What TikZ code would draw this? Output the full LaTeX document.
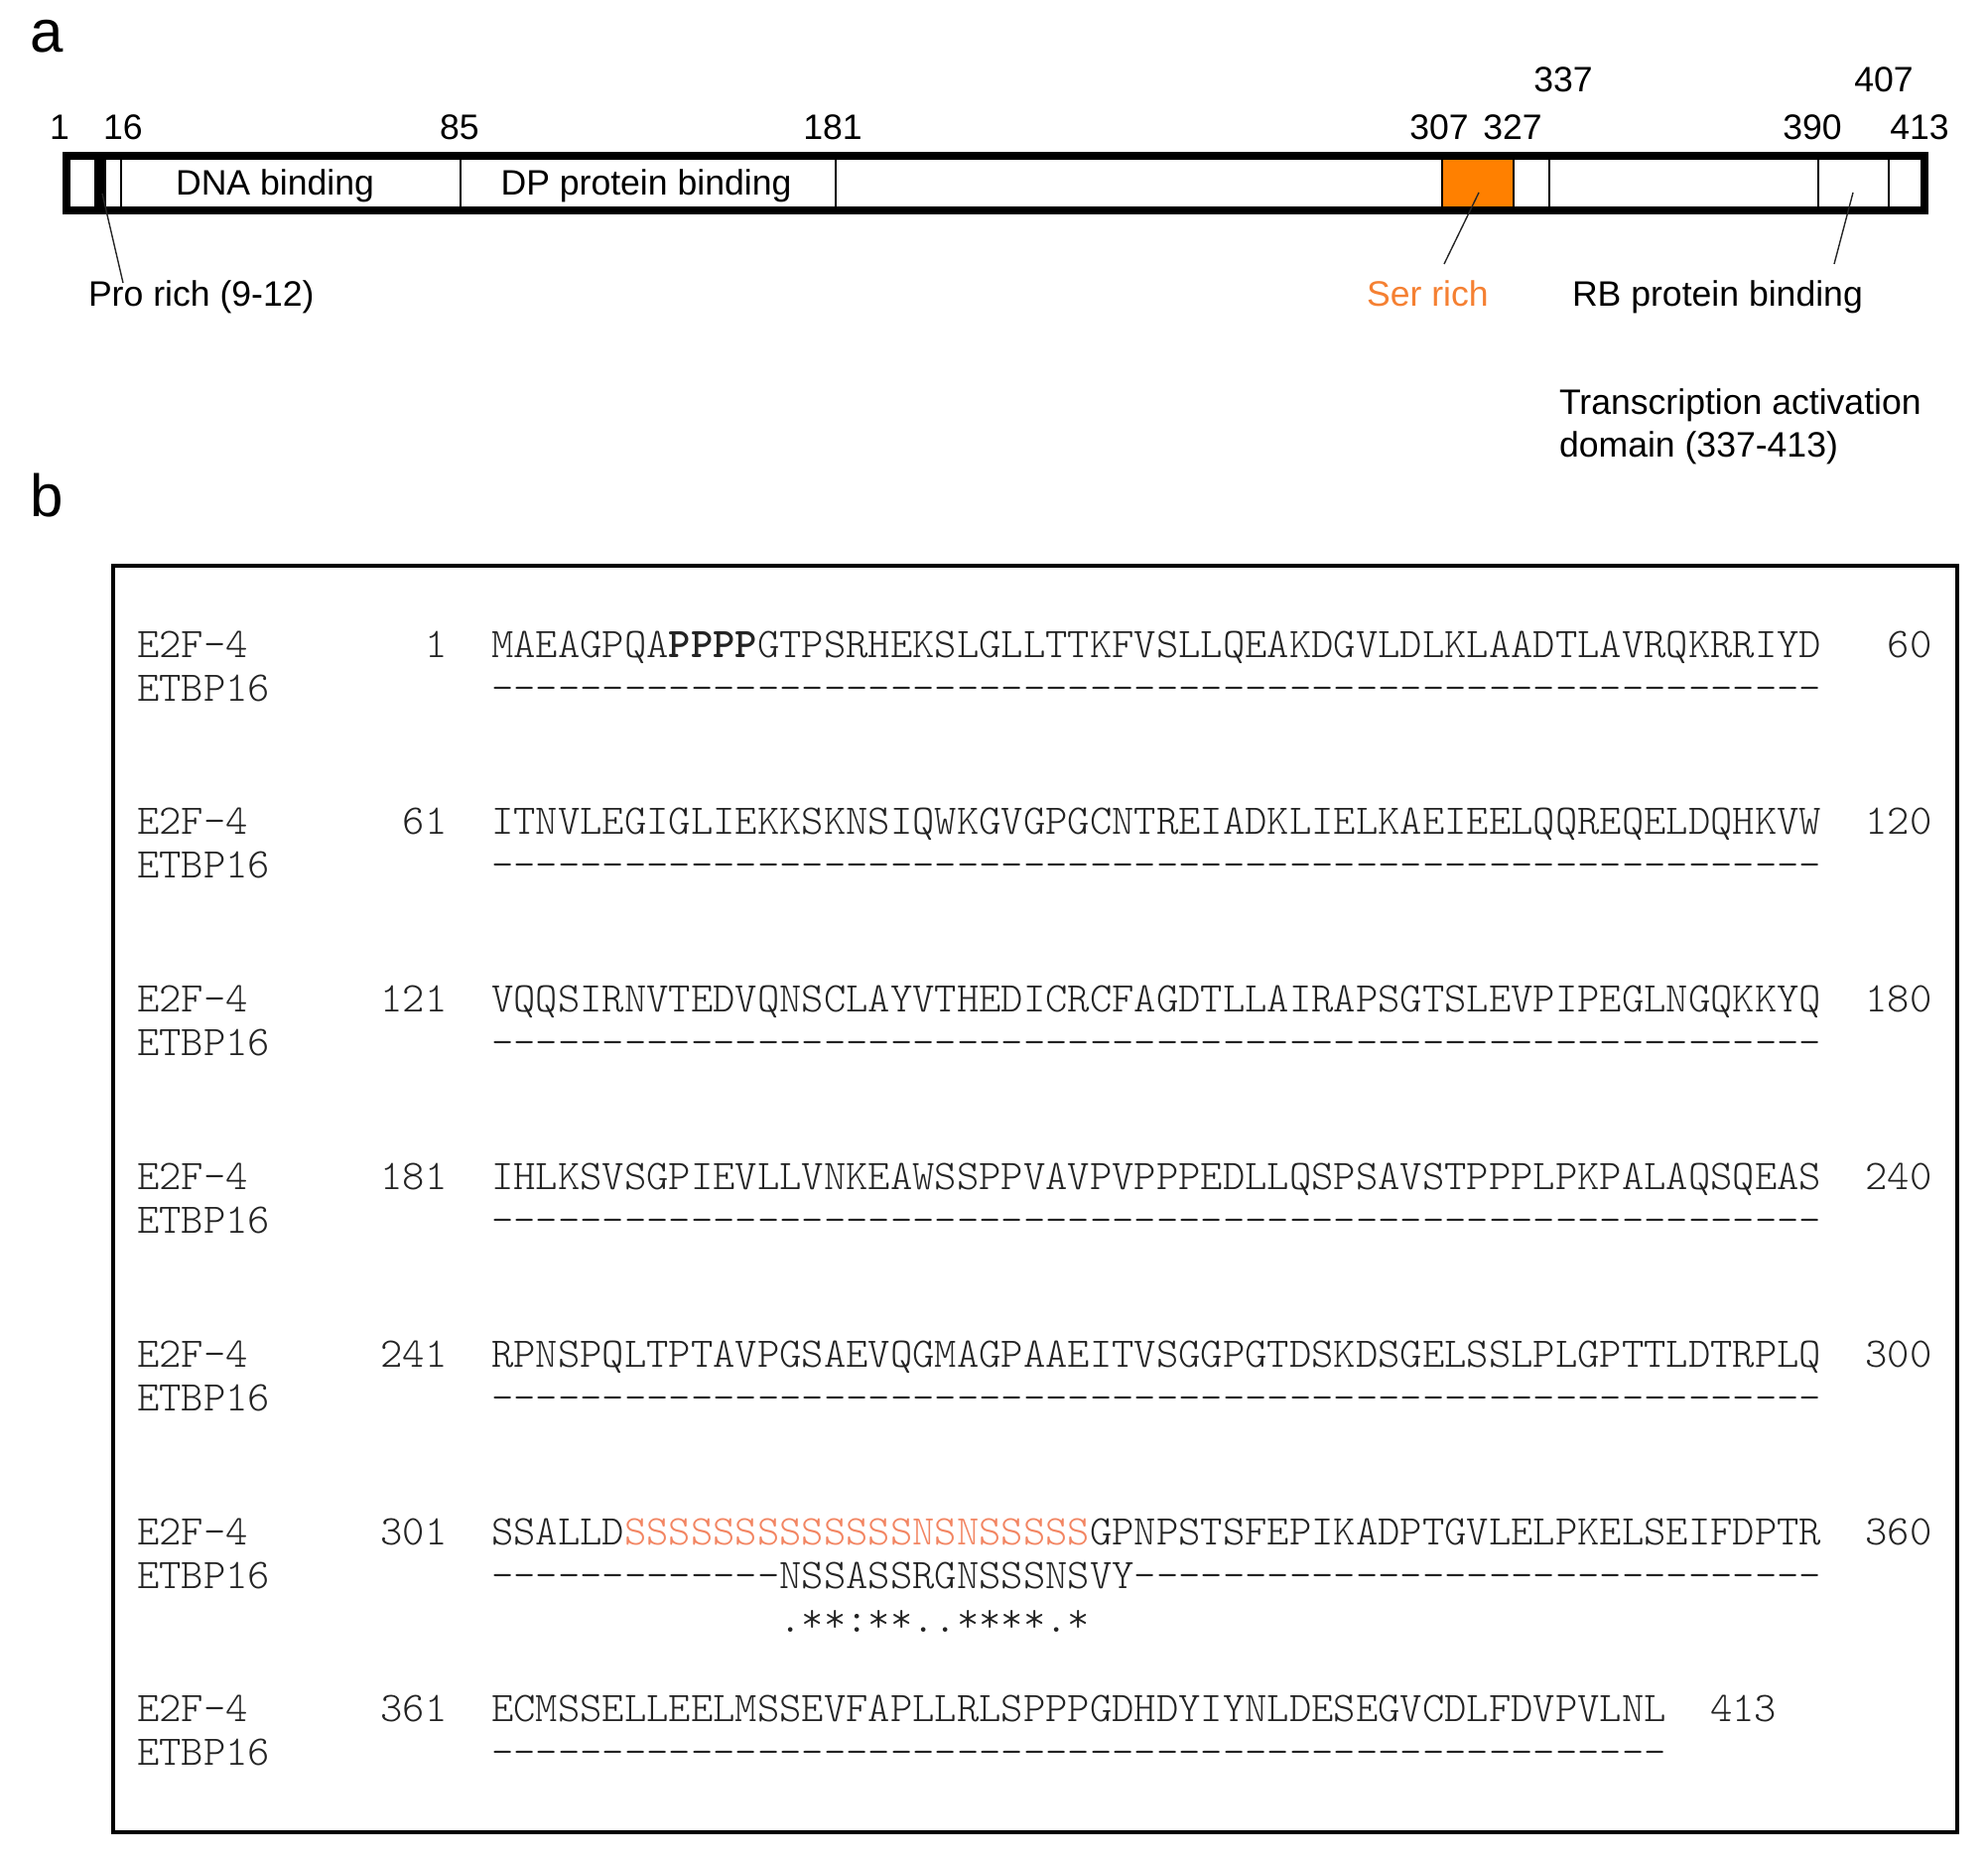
\documentclass[tikz,border=0pt]{standalone}
\usepackage{fontspec}
\setmainfont{Liberation Sans}
\definecolor{boxorange}{RGB}{255,128,0}
\definecolor{labelorange}{RGB}{245,128,50}
\definecolor{seqorange}{RGB}{242,133,98}
\definecolor{seqgray}{RGB}{35,35,35}
\newcommand\sfs{\fontsize{17.8}{21.4}\selectfont}
\newcommand\panelfs{\fontsize{30}{36}\selectfont}
\newcommand\seqf{\ttfamily\fontseries{l}\fontsize{21.27}{25}\selectfont}
\newcount\dashcnt
\newcommand\dsh[1]{\dashcnt=#1\relax\loop-\kern0pt\advance\dashcnt by -1\relax\ifnum\dashcnt>0 \repeat}
\tikzset{
  txt/.style={inner sep=0pt, outer sep=0pt, font=\sfs},
  panel/.style={inner sep=0pt, outer sep=0pt, font=\panelfs, anchor=base west},
  seq/.style={inner sep=0pt, outer sep=0pt, font=\seqf, text=seqgray, anchor=base west},
  rnum/.style={seq, anchor=base east},
  divider/.style={line width=1pt},
  callout/.style={line width=0.7pt, draw=black!85},
}
\begin{document}
\begin{tikzpicture}[x=0.5pt,y=-0.5pt]
\useasboundingbox (0,0) rectangle (2003,1877);
% ---------------- panel a ----------------
\node[panel] (la) at (31,53) {a};
\fill[boxorange] (1453,161) rectangle (1525,208);
\fill[black] (95,161) rectangle (107,208);
\foreach \x in {122,464,842,1453,1525,1561,1832,1903}
  \draw[divider] (\x,160) -- (\x,209);
\draw[line width=4pt] (67,157) rectangle (1939,212);
% position numbers
\node[txt, anchor=base] (p1)   at (60,141)   {1};
\node[txt, anchor=base] (p16)  at (124,141)  {16};
\node[txt, anchor=base] (p85)  at (463,141)  {85};
\node[txt, anchor=base] (p181) at (839,141)  {181};
\node[txt, anchor=base] (p307) at (1450,141) {307};
\node[txt, anchor=base] (p327) at (1524,141) {327};
\node[txt, anchor=base] (p337) at (1575,93)  {337};
\node[txt, anchor=base] (p390) at (1826,141) {390};
\node[txt, anchor=base] (p407) at (1898,93)  {407};
\node[txt, anchor=base] (p413) at (1934,141) {413};
% domain labels
\node[txt, anchor=base] (dna) at (277,197) {DNA binding};
\node[txt, anchor=base] (dp)  at (651,197) {DP protein binding};
% callouts
\node[txt, anchor=base west] (pro) at (89,309) {Pro rich (9-12)};
\node[txt, anchor=base west, text=labelorange] (ser) at (1377,309) {Ser rich};
\node[txt, anchor=base west] (rb) at (1584,309) {RB protein binding};
\coordinate (proA) at (103,195); \coordinate (proB) at (124,285);
\coordinate (serA) at (1490,194); \coordinate (serB) at (1455,266);
\coordinate (rbA) at (1867,194); \coordinate (rbB) at (1848,266);
\draw[callout] (proA) -- (proB);
\draw[callout] (serA) -- (serB);
\draw[callout] (rbA) -- (rbB);
\node[txt, anchor=base west] (tad1) at (1571,418) {Transcription activation};
\node[txt, anchor=base west] (tad2) at (1571,461) {domain (337-413)};
% ---------------- panel b ----------------
\node[panel] (lb) at (31,521) {b};
\draw[line width=2pt] (114,570) rectangle (1972,1846);
% row 1
\node[seq]  (n1a) at (138,662) {E2F-4};
\node[rnum] (s1a) at (450.6,662) {1};
\node[seq]  (q1a) at (495.3,662) {MAEAGPQA{\fontseries{b}\selectfont PPPP}GTPSRHEKSLGLLTTKFVSLLQEAKDGVLDLKLAADTLAVRQKRRIYD};
\node[rnum] (e1a) at (1946.5,662) {60};
\node[seq]  (n1b) at (138,706) {ETBP16};
\node[seq]  (q1b) at (495.3,706) {\dsh{60}};
% row 2
\node[seq]  (n2a) at (138,840.8) {E2F-4};
\node[rnum] (s2a) at (450.6,840.8) {61};
\node[seq]  (q2a) at (495.3,840.8) {ITNVLEGIGLIEKKSKNSIQWKGVGPGCNTREIADKLIELKAEIEELQQREQELDQHKVW};
\node[rnum] (e2a) at (1946.5,840.8) {120};
\node[seq]  (n2b) at (138,884.8) {ETBP16};
\node[seq]  (q2b) at (495.3,884.8) {\dsh{60}};
% row 3
\node[seq]  (n3a) at (138,1019.6) {E2F-4};
\node[rnum] (s3a) at (450.6,1019.6) {121};
\node[seq]  (q3a) at (495.3,1019.6) {VQQSIRNVTEDVQNSCLAYVTHEDICRCFAGDTLLAIRAPSGTSLEVPIPEGLNGQKKYQ};
\node[rnum] (e3a) at (1946.5,1019.6) {180};
\node[seq]  (n3b) at (138,1063.6) {ETBP16};
\node[seq]  (q3b) at (495.3,1063.6) {\dsh{60}};
% row 4
\node[seq]  (n4a) at (138,1198.4) {E2F-4};
\node[rnum] (s4a) at (450.6,1198.4) {181};
\node[seq]  (q4a) at (495.3,1198.4) {IHLKSVSGPIEVLLVNKEAWSSPPVAVPVPPPEDLLQSPSAVSTPPPLPKPALAQSQEAS};
\node[rnum] (e4a) at (1946.5,1198.4) {240};
\node[seq]  (n4b) at (138,1242.4) {ETBP16};
\node[seq]  (q4b) at (495.3,1242.4) {\dsh{60}};
% row 5
\node[seq]  (n5a) at (138,1377.2) {E2F-4};
\node[rnum] (s5a) at (450.6,1377.2) {241};
\node[seq]  (q5a) at (495.3,1377.2) {RPNSPQLTPTAVPGSAEVQGMAGPAAEITVSGGPGTDSKDSGELSSLPLGPTTLDTRPLQ};
\node[rnum] (e5a) at (1946.5,1377.2) {300};
\node[seq]  (n5b) at (138,1421.2) {ETBP16};
\node[seq]  (q5b) at (495.3,1421.2) {\dsh{60}};
% row 6
\node[seq]  (n6a) at (138,1556) {E2F-4};
\node[rnum] (s6a) at (450.6,1556) {301};
\node[seq]  (q6a) at (495.3,1556) {SSALLD\textcolor{seqorange}{SSSSSSSSSSSSSNSNSSSSS}GPNPSTSFEPIKADPTGVLELPKELSEIFDPTR};
\node[rnum] (e6a) at (1946.5,1556) {360};
\node[seq]  (n6b) at (138,1600) {ETBP16};
\node[seq]  (q6b) at (495.3,1600) {\dsh{13}NSSASSRGNSSSNSVY\dsh{31}};
\node[seq]  (c6)  at (785.6,1644) {.**:**..****.*};
% row 7
\node[seq]  (n7a) at (138,1734.8) {E2F-4};
\node[rnum] (s7a) at (450.6,1734.8) {361};
\node[seq]  (q7a) at (495.3,1734.8) {ECMSSELLEELMSSEVFAPLLRLSPPPGDHDYIYNLDESEGVCDLFDVPVLNL};
\node[seq]  (e7a) at (1723,1734.8) {413};
\node[seq]  (n7b) at (138,1778.8) {ETBP16};
\node[seq]  (q7b) at (495.3,1778.8) {\dsh{53}};
\end{tikzpicture}
\end{document}
